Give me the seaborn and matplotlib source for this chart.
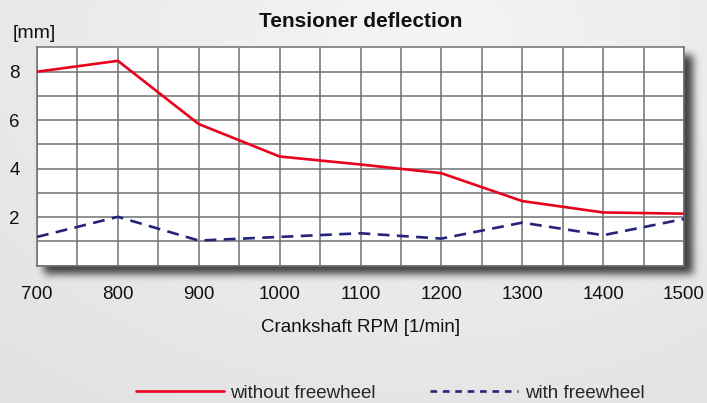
import numpy as np
import pandas as pd
import matplotlib
matplotlib.use("Agg")
import matplotlib.pyplot as plt
import seaborn as sns

rpm = [700, 800, 900, 1000, 1100, 1200, 1300, 1400, 1500]
without_freewheel = [8.0, 8.45, 5.84, 4.5, 4.17, 3.81, 2.66, 2.19, 2.14]
with_freewheel = [1.18, 2.01, 1.03, 1.18, 1.33, 1.11, 1.77, 1.25, 1.92]
series_names = ["without freewheel", "with freewheel"]
x_ticks = list(range(700, 1501, 50))
x_labels = [str(v) if v % 100 == 0 else "" for v in x_ticks]
y_ticks = list(range(0, 10))
y_labels = [str(v) if v in (2, 4, 6, 8) else "" for v in y_ticks]

sns.set_style("white")
plt.rcParams["font.family"] = ["Liberation Sans", "DejaVu Sans"]

W, H = 707, 403
fig = plt.figure(figsize=(W / 100, H / 100), dpi=100)

# axes placement (pixels)
L, R, T, B = 37, 684, 47.5, 265.5

# background gradient + blurred drop shadow
yy, xx = np.mgrid[0:H, 0:W]
r = np.sqrt(((xx - 420) / 600.0) ** 2 + ((yy - 40) / 420.0) ** 2)
bg = 0.96 - 0.07 * np.clip(r, 0, 1.3)
mask = ((xx >= L + 7) & (xx <= R + 8) & (yy >= T + 7) & (yy <= B + 8)).astype(float)
sig = 4.0
k = np.arange(-12, 13)
g = np.exp(-k ** 2 / (2 * sig ** 2)); g /= g.sum()
mask = np.apply_along_axis(lambda m: np.convolve(m, g, mode="same"), 1, mask)
mask = np.apply_along_axis(lambda m: np.convolve(m, g, mode="same"), 0, mask)
img = bg * (1 - 0.72 * mask)
bgax = fig.add_axes([0, 0, 1, 1], zorder=-10)
bgax.imshow(np.dstack([img, img, img]), aspect="auto", extent=(0, W, H, 0))
bgax.set_axis_off()

ax = fig.add_axes([L / W, 1 - B / H, (R - L) / W, (B - T) / H])
ax.set_facecolor("white")

df = pd.DataFrame({"rpm": rpm, series_names[0]: without_freewheel, series_names[1]: with_freewheel})
sns.lineplot(data=df, x="rpm", y=series_names[0], ax=ax, color="#e8001c", linewidth=1.9,
             label=series_names[0], zorder=5)
sns.lineplot(data=df, x="rpm", y=series_names[1], ax=ax, color="#25237a", linewidth=1.9,
             label=series_names[1], zorder=5, dashes=False)
ax.lines[1].set_dashes((4.5, 2.8))

ax.set_xlim(700, 1500)
ax.set_ylim(0, 9)
ax.set_xticks(x_ticks)
ax.set_xticklabels(x_labels)
ax.set_yticks(y_ticks)
ax.set_yticklabels(y_labels)
gc = "#707070"
ax.grid(True, color=gc, linewidth=1.1)
ax.tick_params(axis="x", length=13, width=1.1, color=gc, pad=2, labelsize=13.5, labelcolor="#111111")
ax.tick_params(axis="y", length=8.5, width=1.1, color=gc, pad=4, labelsize=13.5, labelcolor="#111111")
for s in ax.spines.values():
    s.set_color(gc)
    s.set_linewidth(1.1)
ax.set_xlabel("Crankshaft RPM [1/min]", fontsize=13.5, labelpad=11, color="#111111")
ax.set_ylabel("")
ax.set_title("Tensioner deflection", fontsize=15, fontweight="bold", pad=15, color="#111111")
fig.text(13 / W, 1 - 33 / H, "[mm]", fontsize=14, va="center", ha="left", color="#111111")

leg = ax.legend(loc="center", bbox_to_anchor=(390 / W, 1 - 393 / H), bbox_transform=fig.transFigure,
                ncol=2, frameon=False, fontsize=13.5, handlelength=4.7, handletextpad=0.35,
                columnspacing=2.9)
leg.get_lines()[1].set_dashes((2.5, 2.2))

fig.savefig("out.png", dpi=100)
